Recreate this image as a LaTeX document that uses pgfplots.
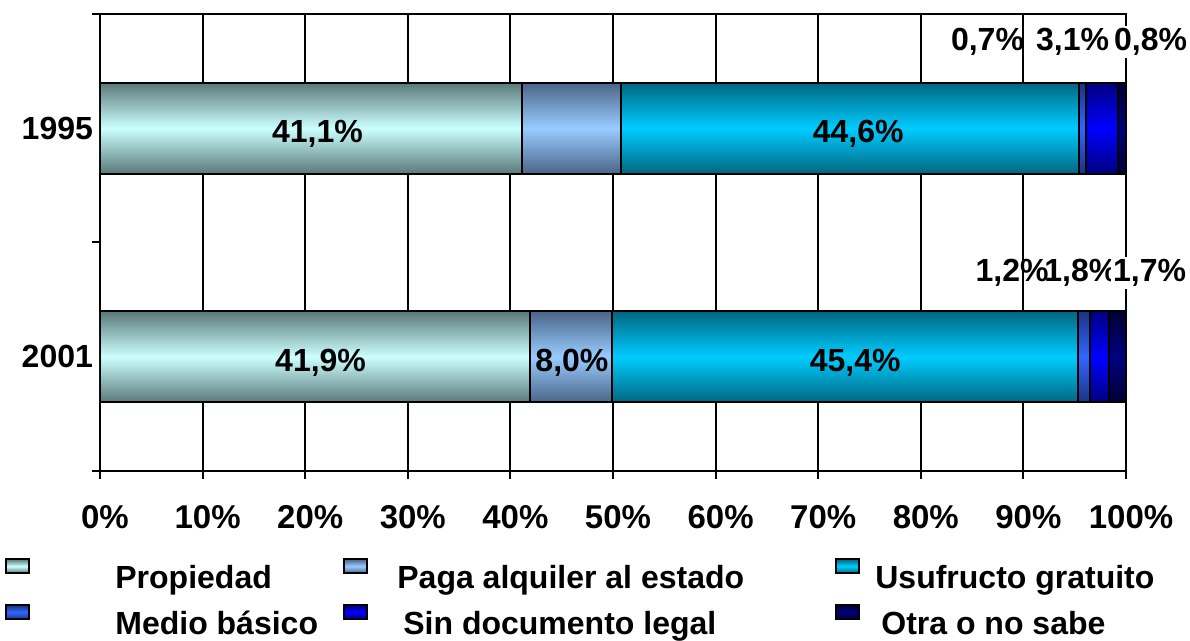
\documentclass[border=0pt]{standalone}
\usepackage{pgfplots}
\pgfplotsset{compat=1.18}
\usepackage{fontspec}
\setmainfont{Liberation Sans}
\definecolor{propC}{HTML}{CCFFFF}
\definecolor{propE}{HTML}{5A7878}
\definecolor{pagaC}{HTML}{99CCFF}
\definecolor{pagaE}{HTML}{4A6488}
\definecolor{usuC}{HTML}{00CCFF}
\definecolor{usuE}{HTML}{006680}
\definecolor{medC}{HTML}{3366FF}
\definecolor{medE}{HTML}{1A3380}
\definecolor{sinC}{HTML}{0000FF}
\definecolor{sinE}{HTML}{000080}
\definecolor{otrC}{HTML}{000080}
\definecolor{otrE}{HTML}{000033}
\newcommand{\chf}{\fontsize{16}{19}\selectfont\bfseries}
\newcommand{\tkf}{\fontsize{16.5}{19}\selectfont\bfseries}
\pgfplotsset{
  lgimg/.style={legend image code/.code={\draw[##1] (0pt,3.5pt) rectangle (11.5pt,10.5pt);}},
  sh/.style 2 args={draw=black, line width=1pt, top color=#2, bottom color=#2, middle color=#1, lgimg},
  base/.style={at={(0pt,0pt)}, anchor=south west, scale only axis,
    width=513pt, height=228.5pt, xmin=0, xmax=100, ymin=-0.5, ymax=1.5},
}
\begin{document}
\begin{tikzpicture}[font=\chf]
\path[use as bounding box] (-50pt,-85pt) rectangle (545pt,235.5pt);
% 1995 bar, frame, grid, ticks, legend
\begin{axis}[
 base,
 xbar stacked, bar width=0.4,
 xtick={0,10,...,100},
 xticklabel={\pgfmathprintnumber{\tick}\%},
 /pgf/number format/assume math mode=true,
 xmajorgrids, grid style={black, line width=1pt},
 axis line style={line width=1pt},
 ytick={-0.5,0.5,1.5}, yticklabels={},
 extra y ticks={0,1}, extra y tick labels={2001,1995},
 extra y tick style={major tick length=0pt},
 tick align=outside, major tick length=4pt,
 xtick pos=bottom, ytick pos=left,
 tick style={black, line width=1pt},
 yticklabel style={font=\chf},
 xticklabel style={font=\tkf, xshift=2.5pt, yshift=-9.5pt},
 legend columns=3,
 legend style={at={(-0.0926,-0.19)}, anchor=north west, draw=none, fill=none, inner sep=0pt,
   column sep=0pt, row sep=5pt, cells={anchor=west},
   nodes={inner sep=0pt, text height=11pt, text depth=3pt, font=\chf}},
]
\addplot[sh={propC}{propE}] coordinates {(41.1,1)};
\addlegendentry{\makebox[156.5pt][l]{\hspace{42.5pt}Propiedad}}
\addplot[sh={pagaC}{pagaE}] coordinates {(9.7,1)};
\addlegendentry{\makebox[233.5pt][l]{\hspace{14.5pt}Paga alquiler al estado}}
\addplot[sh={usuC}{usuE}] coordinates {(44.6,1)};
\addlegendentry{\makebox[150pt][l]{\hspace{7.5pt}Usufructo gratuito}}
\addplot[sh={medC}{medE}] coordinates {(0.7,1)};
\addlegendentry{\makebox[156.5pt][l]{\hspace{42.5pt}Medio básico}}
\addplot[sh={sinC}{sinE}] coordinates {(3.1,1)};
\addlegendentry{\makebox[233.5pt][l]{\hspace{17.5pt}Sin documento legal}}
\addplot[sh={otrC}{otrE}] coordinates {(0.8,1)};
\addlegendentry{\makebox[150pt][l]{\hspace{10.5pt}Otra o no sabe}}
\end{axis}
% 2001 bar
\begin{axis}[base, hide axis, xbar stacked, bar width=0.4]
\addplot[sh={propC}{propE}] coordinates {(41.9,0)};
\addplot[sh={pagaC}{pagaE}] coordinates {(8.0,0)};
\addplot[sh={usuC}{usuE}] coordinates {(45.4,0)};
\addplot[sh={medC}{medE}] coordinates {(1.2,0)};
\addplot[sh={sinC}{sinE}] coordinates {(1.8,0)};
\addplot[sh={otrC}{otrE}] coordinates {(1.7,0)};
\end{axis}
% value labels
\begin{axis}[base, hide axis, clip=false]
\addplot[draw=none, mark=none, nodes near coords, point meta=explicit symbolic,
  every node near coord/.append style={anchor=center, inner sep=1pt, font=\chf, text=black, yshift=-3pt}]
  coordinates {(21.2,1) [41,1\%] (73.9,1) [44,6\%] (21.5,0) [41,9\%] (46.0,0) [8,0\%] (73.6,0) [45,4\%]};
\addplot[draw=none, mark=none, nodes near coords, point meta=explicit symbolic,
  every node near coord/.append style={anchor=center, inner sep=1pt, font=\chf, text=black}]
  coordinates {(86.5,1.377) [0,7\%] (94.8,1.377) [3,1\%] (88.9,0.366) [1,2\%] (95.6,0.366) [1,8\%]};
\addplot[draw=none, mark=none, nodes near coords, point meta=explicit symbolic,
  every node near coord/.append style={anchor=center, inner sep=1pt, font=\chf, text=black, fill=white}]
  coordinates {(102.4,1.377) [0,8\%] (102.3,0.366) [1,7\%]};
\end{axis}
\end{tikzpicture}
\end{document}
